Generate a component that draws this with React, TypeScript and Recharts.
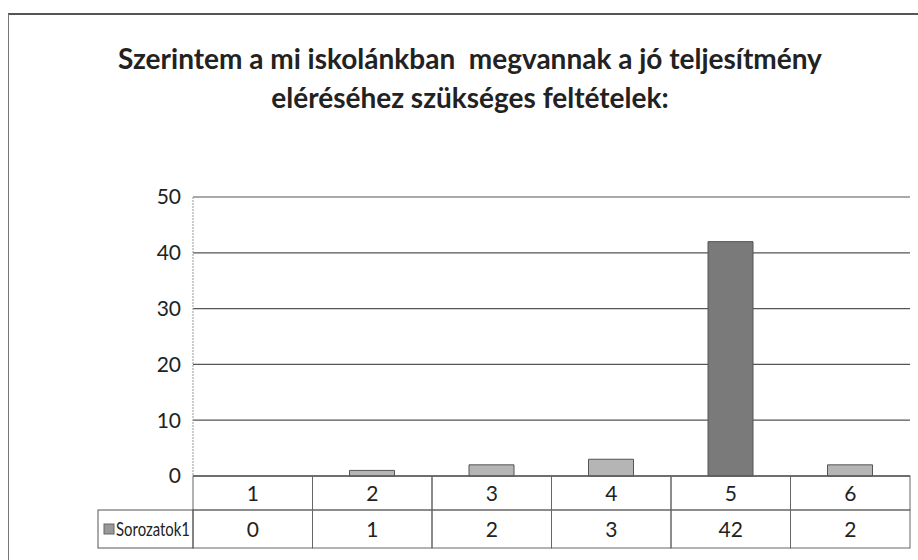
import { BarChart, Bar, XAxis, YAxis, CartesianGrid, Cell } from 'recharts';

// categories and the single series (Sorozatok1)
const categories = ['1', '2', '3', '4', '5', '6'];
const sorozatok1 = [0, 1, 2, 3, 42, 2];
const yTicks = [0, 10, 20, 30, 40, 50];
const seriesName = 'Sorozatok1';

const data = categories.map((c, i) => ({ cat: c, value: sorozatok1[i] }));

const W = 918;
const H = 560;
const margin = { top: 197, right: 8, left: 153, bottom: 8 };
const yAxisW = 40;
const xAxisH = 76;
const plotLeft = margin.left + yAxisW;
const plotRight = W - margin.right;
const plotBottom = H - margin.bottom - xAxisH;
const row1H = 34;
const row2H = 38;
const headerLeft = 98;
const font = 'Lato, "Open Sans", sans-serif';

function TableTick(props: any) {
  const { x, payload } = props;
  const idx = payload.index ?? props.index ?? 0;
  const cw = (plotRight - plotLeft) / categories.length;
  const x0 = x - cw / 2;
  const y1 = plotBottom;
  const y2 = plotBottom + row1H;
  return (
    <g fontFamily={font} fontSize={21} fill="#222">
      <rect x={x0} y={y1} width={cw} height={row1H} fill="none" stroke="#666" strokeWidth={1} />
      <text x={x} y={y1 + row1H / 2 + 8} textAnchor="middle" fill="#222">{payload.value}</text>
      <rect x={x0} y={y2} width={cw} height={row2H} fill="none" stroke="#666" strokeWidth={1} />
      <text x={x} y={y2 + row2H / 2 + 8} textAnchor="middle" fill="#222">{sorozatok1[idx]}</text>
      {idx === 0 && (
        <g>
          <rect x={headerLeft} y={y2} width={x0 - headerLeft} height={row2H} fill="none" stroke="#555" strokeWidth={1} />
          <rect x={headerLeft + 6} y={y2 + row2H / 2 - 5} width={10} height={10} fill="#999" stroke="#666" />
          <text
            x={headerLeft + 18}
            y={y2 + row2H / 2 + 7}
            fill="#222"
            fontSize={20}
            textLength={74}
            lengthAdjust="spacingAndGlyphs"
          >
            {seriesName}
          </text>
        </g>
      )}
    </g>
  );
}

export default function App() {
  return (
    <div style={{ position: 'absolute', left: 0, top: 0, width: W, height: H, background: '#fff', overflow: 'hidden' }}>
      <div
        style={{
          position: 'absolute',
          left: 8,
          top: 13,
          width: W,
          height: H,
          borderLeft: '1px solid #777',
          borderTop: '2px solid #555',
        }}
      />
      <div
        style={{
          position: 'absolute',
          left: 0,
          top: 39,
          width: 940,
          textAlign: 'center',
          fontFamily: font,
          fontWeight: 700,
          fontSize: 28,
          lineHeight: '39px',
          color: '#222',
        }}
      >
        Szerintem a mi iskolánkban&nbsp; megvannak a jó teljesítmény
        <br />
        eléréséhez szükséges feltételek:
      </div>
      <BarChart width={W} height={H} data={data} margin={margin} style={{ position: 'absolute', left: 0, top: 0 }}>
        <CartesianGrid vertical={false} stroke="#555" strokeWidth={1.2} />
        <YAxis
          width={yAxisW}
          domain={[0, 50]}
          ticks={yTicks}
          tickLine={false}
          axisLine={{ stroke: '#999', strokeDasharray: '2 1' }}
          tickMargin={6}
          tick={{ fontFamily: font, fontSize: 21, fill: '#222' }}
        />
        <XAxis
          dataKey="cat"
          height={xAxisH}
          tickLine={false}
          axisLine={{ stroke: '#444' }}
          tick={<TableTick />}
          interval={0}
        />
        <Bar dataKey="value" barSize={45} stroke="#555" strokeWidth={1} isAnimationActive={false}>
          {data.map((d) => (
            <Cell key={d.cat} fill={d.value > 10 ? '#7a7a7a' : '#b5b5b5'} />
          ))}
        </Bar>
      </BarChart>
    </div>
  );
}
